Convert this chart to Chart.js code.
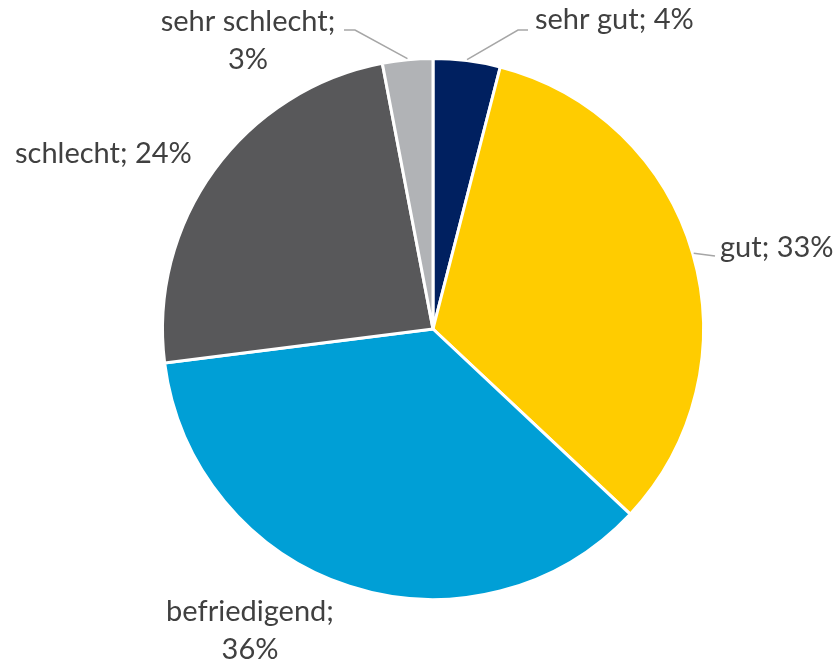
<!DOCTYPE html>
<html>
<head>
<meta charset="utf-8">
<script src="https://cdn.jsdelivr.net/npm/chart.js@4.4.1/dist/chart.umd.min.js"></script>
<style>
  html, body { margin: 0; padding: 0; background: #fff; }
</style>
</head>
<body>
<canvas id="pie_chart" width="836" height="664"></canvas>
<script>
// data
const categories = ['sehr gut', 'gut', 'befriedigend', 'schlecht', 'sehr schlecht'];
const shares = [4, 33, 36, 24, 3];
const sliceColors = ['#002060', '#FFCC00', '#009FD6', '#58585A', '#B1B3B6'];

// where each label sits (relative to pie centre) and whether it gets a leader line
const labelLayout = [
  { lines: ['sehr gut; 4%'], x: 102, y: -309, align: 'left', leader: [[518 - 433, 30 - 329], [528 - 433, 30 - 329]] },
  { lines: ['gut; 33%'], x: 287, y: -81, align: 'left', leader: [[715 - 433, 256 - 329]] },
  { lines: ['befriedigend;', '36%'], x: -183, y: 283, align: 'center', leader: null },
  { lines: ['schlecht; 24%'], x: -418, y: -175, align: 'left', leader: null },
  { lines: ['sehr schlecht;', '3%'], x: -185, y: -307, align: 'center', leader: [[355 - 433, 30 - 329], [344 - 433, 30 - 329]] }
];

const labelPlugin = {
  id: 'pieLabels',
  afterDatasetsDraw(chart) {
    const ctx = chart.ctx;
    const meta = chart.getDatasetMeta(0);
    ctx.save();
    ctx.font = '29px Lato, "Open Sans", sans-serif';
    ctx.fillStyle = '#404040';
    ctx.textBaseline = 'middle';
    meta.data.forEach((arc, i) => {
      const p = arc.getProps(['x', 'y', 'startAngle', 'endAngle', 'outerRadius']);
      const lay = labelLayout[i];
      if (lay.leader) {
        const mid = (p.startAngle + p.endAngle) / 2;
        const r = p.outerRadius + 1;
        ctx.beginPath();
        ctx.strokeStyle = '#A6A6A6';
        ctx.lineWidth = 1.5;
        ctx.moveTo(p.x + Math.cos(mid) * r, p.y + Math.sin(mid) * r);
        lay.leader.forEach(pt => ctx.lineTo(p.x + pt[0], p.y + pt[1]));
        ctx.stroke();
      }
      ctx.textAlign = lay.align;
      lay.lines.forEach((t, k) => {
        ctx.fillText(t, p.x + lay.x, p.y + lay.y + k * 38);
      });
    });
    ctx.restore();
  }
};

const ctx = document.getElementById('pie_chart').getContext('2d');
const myChart = new Chart(ctx, {
  type: 'pie',
  data: {
    labels: categories,
    datasets: [{
      data: shares,
      backgroundColor: sliceColors,
      borderColor: '#ffffff',
      borderWidth: 3
    }]
  },
  options: {
    responsive: false,
    animation: false,
    layout: { padding: { left: 161, right: 131, top: 56, bottom: 62 } },
    plugins: {
      legend: { display: false },
      tooltip: { enabled: false }
    }
  },
  plugins: [labelPlugin]
});
</script>
</body>
</html>
